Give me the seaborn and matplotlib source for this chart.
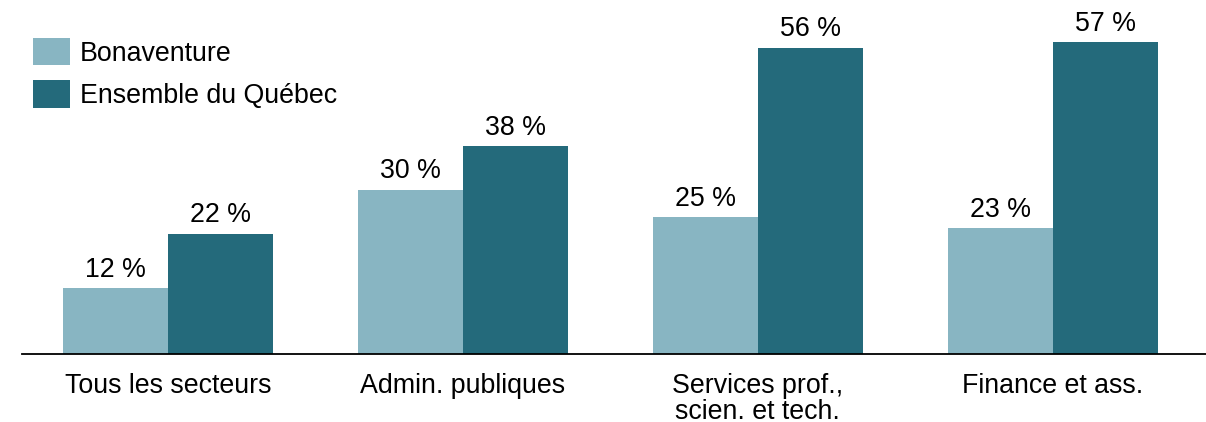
import numpy as np
import matplotlib.pyplot as plt
import pandas as pd
import seaborn as sns

secteurs = ["Tous les secteurs", "Admin. publiques", "Services prof.,\nscien. et tech.", "Finance et ass."]
bonaventure = [12, 30, 25, 23]
quebec = [22, 38, 56, 57]
series = ["Bonaventure", "Ensemble du Québec"]

df = pd.DataFrame({
    "secteur": secteurs * 2,
    "valeur": bonaventure + quebec,
    "serie": [series[0]] * 4 + [series[1]] * 4,
})

sns.set_style("white")
plt.rcParams['font.family'] = ['Liberation Sans', 'DejaVu Sans']
plt.rcParams['text.color'] = 'black'
plt.rcParams['xtick.color'] = 'black'
fs = 19.3

fig = plt.figure(figsize=(12.06, 4.22), dpi=100)
ax = fig.add_axes([22 / 1206, 1 - 354 / 422, 1 - 22 / 1206, 354 / 422])

sns.barplot(data=df, x="secteur", y="valeur", hue="serie",
            palette=["#88B5C2", "#246A7B"], saturation=1, width=0.712,
            ax=ax, errorbar=None, linewidth=0)

for c in ax.containers:
    ax.bar_label(c, fmt="{:.0f} %", padding=4, fontsize=fs, color="black")

ax.set_ylim(0, 64.7)
ax.set_xlim(-0.495, 3.52)
ax.set_xlabel("")
ax.set_ylabel("")
ax.set_yticks([])
ax.tick_params(axis="x", length=0, pad=14, labelsize=fs, labelcolor="black")
for lab in ax.get_xticklabels():
    lab.set_linespacing(1.0)
for s in ["top", "right", "left"]:
    ax.spines[s].set_visible(False)
ax.spines["bottom"].set_color("black")
ax.spines["bottom"].set_linewidth(1.3)

leg = ax.legend(loc="upper left", bbox_to_anchor=(11 / 1184, 1 - 38 / 354), frameon=False,
                fontsize=fs, handlelength=1.37, handleheight=1.2,
                labelspacing=0.5, handletextpad=0.37, borderaxespad=0, borderpad=0)

fig.savefig("out.png", dpi=100)
